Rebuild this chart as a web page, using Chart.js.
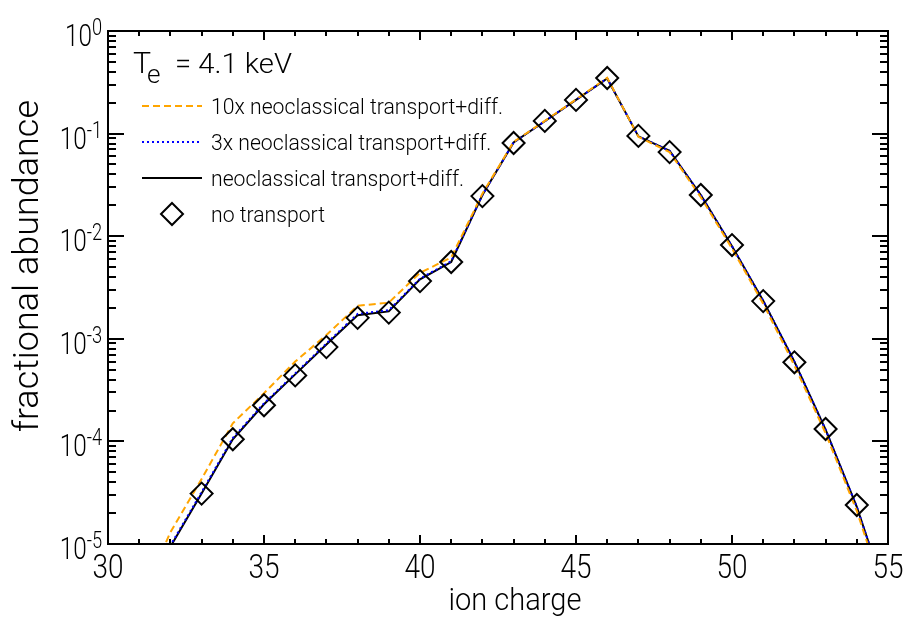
<!DOCTYPE html>
<html>
<head>
<meta charset="utf-8">
<script src="https://cdn.jsdelivr.net/npm/chart.js@4.4.0/dist/chart.umd.min.js"></script>
<style>
  html, body { margin: 0; padding: 0; background: #fff; }
  canvas { display: block; }
</style>
</head>
<body>
<canvas id="chart" width="906" height="624"></canvas>
<script>
// ion charge states
const charges = [31, 32, 33, 34, 35, 36, 37, 38, 39, 40, 41, 42, 43, 44, 45, 46, 47, 48, 49, 50, 51, 52, 53, 54, 55];

// fractional abundance
const tenX = [2.7e-6, 1.3e-5, 4.3e-5, 1.5e-4, 2.95e-4, 6.0e-4, 1.09e-3, 2.1e-3, 2.25e-3, 4.4e-3, 6.2e-3,
  0.026, 0.083, 0.133, 0.215, 0.35, 0.093, 0.066, 0.024, 7.6e-3, 2.2e-3, 5.5e-4, 1.2e-4, 2.1e-5, 2.5e-6];
const threeX = [1.6e-6, 9.7e-6, 3.2e-5, 1.08e-4, 2.35e-4, 4.6e-4, 9.0e-4, 1.75e-3, 1.9e-3, 3.85e-3, 5.7e-3,
  0.0252, 0.082, 0.132, 0.213, 0.345, 0.094, 0.068, 0.0252, 8.0e-3, 2.35e-3, 6.0e-4, 1.3e-4, 2.3e-5, 2.8e-6];
const neo = [1.5e-6, 9.4e-6, 3.1e-5, 1.05e-4, 2.3e-4, 4.5e-4, 8.8e-4, 1.7e-3, 1.85e-3, 3.8e-3, 5.6e-3,
  0.0252, 0.082, 0.132, 0.213, 0.345, 0.094, 0.068, 0.0252, 8.0e-3, 2.35e-3, 6.0e-4, 1.3e-4, 2.3e-5, 2.8e-6];
const noTransport = [null, null, 3.1e-5, 1.05e-4, 2.25e-4, 4.4e-4, 8.3e-4, 1.6e-3, 1.8e-3, 3.65e-3, 5.6e-3,
  0.0246, 0.081, 0.133, 0.213, 0.348, 0.095, 0.066, 0.0252, 8.2e-3, 2.33e-3, 5.9e-4, 1.32e-4, 2.4e-5, null];

const xTicks = [30, 35, 40, 45, 50, 55];
const yDecades = [-5, -4, -3, -2, -1, 0];
const seriesLabels = ['10x neoclassical transport+diff.', '3x neoclassical transport+diff.',
  'neoclassical transport+diff.', 'no transport'];

const FONT = 'Roboto, "Liberation Sans", sans-serif';
const font = size => '300 ' + size + 'px ' + FONT;

const toPoints = arr => charges.map((c, i) => ({ x: c, y: arr[i] }));

// text squeezed horizontally by sx, anchored at (x, y)
function drawText(ctx, text, x, y, size, sx, align) {
  ctx.save();
  ctx.font = font(size);
  const w = ctx.measureText(text).width * sx;
  let left = x;
  if (align === 'center') left = x - w / 2;
  else if (align === 'right') left = x - w;
  ctx.translate(left, y);
  ctx.scale(sx, 1);
  ctx.textAlign = 'left';
  ctx.fillText(text, 0, 0);
  ctx.restore();
  return w;
}

function fitScale(ctx, text, size, target) {
  ctx.save();
  ctx.font = font(size);
  const w = ctx.measureText(text).width;
  ctx.restore();
  return target / w;
}

// axes, ticks, labels and legend drawn on top of the library's scales
const decorations = {
  id: 'decorations',
  afterDraw(chart) {
    const ctx = chart.ctx;
    const a = chart.chartArea;
    const xs = chart.scales.x, ys = chart.scales.y;
    ctx.save();
    ctx.strokeStyle = '#000';
    ctx.fillStyle = '#000';
    ctx.textBaseline = 'alphabetic';
    ctx.lineWidth = 2;
    ctx.strokeRect(a.left, a.top, a.right - a.left, a.bottom - a.top);

    // x ticks, inward on bottom and top
    ctx.beginPath();
    for (let v = 30; v <= 55; v++) {
      const px = Math.round(xs.getPixelForValue(v));
      const len = v % 5 === 0 ? 9 : 5;
      ctx.moveTo(px, a.bottom); ctx.lineTo(px, a.bottom - len);
      ctx.moveTo(px, a.top); ctx.lineTo(px, a.top + len);
    }
    // y ticks, inward on left and right
    yDecades.forEach(d => {
      const ks = d === 0 ? [1] : [1, 2, 3, 4, 5, 6, 7, 8, 9];
      ks.forEach(k => {
        const py = Math.round(ys.getPixelForValue(k * Math.pow(10, d)));
        const len = k === 1 ? 16 : 8;
        ctx.moveTo(a.left, py); ctx.lineTo(a.left + len, py);
        ctx.moveTo(a.right, py); ctx.lineTo(a.right - len, py);
      });
    });
    ctx.stroke();

    // x tick labels
    const sxTick = fitScale(ctx, '40', 34, 31);
    xTicks.forEach(v => drawText(ctx, String(v), xs.getPixelForValue(v), 578, 34, sxTick, 'center'));

    // y tick labels 10^n
    const syTick = fitScale(ctx, '10', 32, 27);
    yDecades.forEach(d => {
      const py = ys.getPixelForValue(Math.pow(10, d));
      const exp = d === 0 ? '0' : '-' + Math.abs(d);
      ctx.font = font(24);
      const we = ctx.measureText(exp).width * syTick;
      const right = 102;
      drawText(ctx, '10', right - we, py + 15, 32, syTick, 'right');
      drawText(ctx, exp, right - we, py + 4, 24, syTick, 'left');
    });

    // axis titles
    const sxTitle = fitScale(ctx, 'ion charge', 32, 133);
    drawText(ctx, 'ion charge', 515, 610, 32, sxTitle, 'center');
    ctx.save();
    ctx.translate(38, 266);
    ctx.rotate(-Math.PI / 2);
    const syTitle = fitScale(ctx, 'fractional abundance', 35, 332);
    drawText(ctx, 'fractional abundance', 0, 0, 35, syTitle, 'center');
    ctx.restore();

    // temperature annotation
    const sxT = fitScale(ctx, '= 4.1 keV', 28, 117);
    drawText(ctx, 'T', 133, 73, 29, sxT, 'left');
    drawText(ctx, 'e', 147, 83, 25, sxT, 'left');
    drawText(ctx, '= 4.1 keV', 175, 73, 28, sxT, 'left');

    // legend
    const rows = [106, 142, 178, 214];
    const styles = chart.data.datasets;
    const sxLeg = fitScale(ctx, seriesLabels[0], 22, 292);
    rows.forEach((ry, i) => {
      const ds = styles[i];
      ctx.save();
      ctx.strokeStyle = ds.borderColor;
      ctx.lineWidth = ds.borderWidth;
      ctx.beginPath();
      if (i < 3) {
        ctx.setLineDash(ds.borderDash || []);
        ctx.moveTo(142, ry); ctx.lineTo(202, ry);
      } else {
        ctx.moveTo(172, ry - 11); ctx.lineTo(183, ry); ctx.lineTo(172, ry + 11); ctx.lineTo(161, ry);
        ctx.closePath();
      }
      ctx.stroke();
      ctx.restore();
      drawText(ctx, seriesLabels[i], 211, ry + 8, 22, sxLeg, 'left');
    });
    ctx.restore();
  }
};

new Chart(document.getElementById('chart'), {
  type: 'line',
  data: {
    datasets: [
      {
        label: seriesLabels[0], data: toPoints(tenX), borderColor: '#ffa500', borderWidth: 2,
        borderDash: [7, 4], pointRadius: 0, tension: 0, order: 1
      },
      {
        label: seriesLabels[1], data: toPoints(threeX), borderColor: '#0000ff', borderWidth: 2,
        borderDash: [2, 3], pointRadius: 0, tension: 0, order: 2
      },
      {
        label: seriesLabels[2], data: toPoints(neo), borderColor: '#000000', borderWidth: 2,
        pointRadius: 0, tension: 0, order: 3
      },
      {
        label: seriesLabels[3], data: toPoints(noTransport), showLine: false, pointStyle: 'rectRot',
        pointRadius: 11, borderWidth: 2, borderColor: '#000', backgroundColor: 'rgba(0,0,0,0)', order: 0
      }
    ]
  },
  options: {
    responsive: false,
    devicePixelRatio: 1,
    animation: false,
    layout: { padding: { left: 108, top: 31, right: 18, bottom: 80 } },
    plugins: { legend: { display: false }, tooltip: { enabled: false } },
    scales: {
      x: { type: 'linear', min: 30, max: 55, display: false },
      y: { type: 'logarithmic', min: 1e-5, max: 1, display: false }
    }
  },
  plugins: [decorations]
});
</script>
</body>
</html>
